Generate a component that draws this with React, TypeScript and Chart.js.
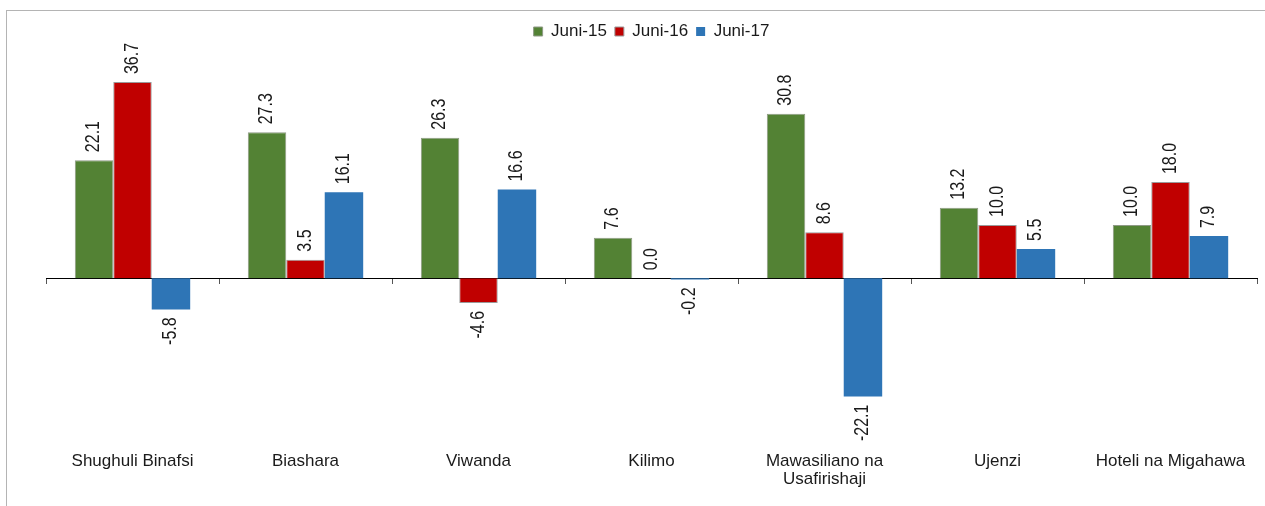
import React, { useEffect, useRef } from 'react';
import { Chart, registerables } from 'chart.js';

Chart.register(...registerables);

const categories: (string | string[])[] = [
  'Shughuli Binafsi',
  'Biashara',
  'Viwanda',
  'Kilimo',
  ['Mawasiliano na', 'Usafirishaji'],
  'Ujenzi',
  'Hoteli na Migahawa',
];
const seriesNames = ['Juni-15', 'Juni-16', 'Juni-17'];
const juni15 = [22.1, 27.3, 26.3, 7.6, 30.8, 13.2, 10.0];
const juni16 = [36.7, 3.5, -4.6, 0.0, 8.6, 10.0, 18.0];
const juni17 = [-5.8, 16.1, 16.6, -0.2, -22.1, 5.5, 7.9];
const seriesColors = ['#538234', '#C00000', '#2E75B6'];
const seriesBorders = ['#8f9a86', '#9a9a9a', '#2E75B6'];

const FONT = '"Liberation Sans", Arial, sans-serif';

const valueLabels = {
  id: 'valueLabels',
  afterDatasetsDraw(chart: any) {
    const ctx = chart.ctx;
    ctx.save();
    ctx.font = `16px ${FONT}`;
    ctx.fillStyle = '#1a1a1a';
    ctx.textBaseline = 'middle';
    chart.data.datasets.forEach((ds: any, di: number) => {
      const meta = chart.getDatasetMeta(di);
      meta.data.forEach((el: any, i: number) => {
        const v = ds.data[i] as number;
        const { x, y, base } = el.getProps(['x', 'y', 'base'], true);
        ctx.save();
        if (v >= 0) {
          ctx.translate(x, Math.min(y, base) - 8);
          ctx.rotate(-Math.PI / 2);
          ctx.textAlign = 'left';
        } else {
          ctx.translate(x, Math.max(y, base) + 8);
          ctx.rotate(-Math.PI / 2);
          ctx.textAlign = 'right';
        }
        ctx.scale(1, 1.22);
        ctx.fillText(v.toFixed(1), 0, 0);
        ctx.restore();
      });
    });
    ctx.restore();
  },
};

export default function App() {
  const canvasRef = useRef<HTMLCanvasElement | null>(null);

  useEffect(() => {
    if (!canvasRef.current) return;
    Chart.defaults.font.family = FONT;
    const series = [juni15, juni16, juni17];
    const chart = new Chart(canvasRef.current, {
      type: 'bar',
      data: {
        labels: categories as any,
        datasets: series.map((d, i) => ({
          label: seriesNames[i],
          data: d,
          backgroundColor: seriesColors[i],
          borderColor: seriesBorders[i],
          borderWidth: i === 2 ? 0 : 1,
          barPercentage: 1,
          categoryPercentage: 0.667,
          xAxisID: 'x',
          yAxisID: 'y',
        })),
      },
      options: {
        animation: false,
        responsive: true,
        maintainAspectRatio: false,
        layout: { padding: { left: 38, right: 8, top: 3, bottom: 3.5 } },
        plugins: {
          legend: {
            position: 'top',
            labels: {
              boxWidth: 9,
              boxHeight: 9,
              padding: 8,
              color: '#1a1a1a',
              font: { size: 17, family: FONT },
            },
          },
          tooltip: { enabled: false },
          title: { display: false },
        },
        scales: {
          y: {
            display: false,
            min: -30,
            max: 42.7,
          },
          x: {
            type: 'category',
            position: { y: 0 } as any,
            offset: true,
            grid: {
              offset: true,
              drawOnChartArea: false,
              drawTicks: true,
              tickLength: 5,
              color: '#555555',
            },
            border: { display: true, color: '#000000', width: 1 },
            ticks: { display: false },
          },
          xl: {
            type: 'category',
            position: 'bottom',
            labels: categories as any,
            offset: true,
            grid: { display: false, drawTicks: false },
            border: { display: false },
            ticks: {
              autoSkip: false,
              maxRotation: 0,
              minRotation: 0,
              padding: 14,
              color: '#1a1a1a',
              font: { size: 17, family: FONT, lineHeight: 1.05 },
            },
          },
        },
      },
      plugins: [valueLabels],
    });
    return () => chart.destroy();
  }, []);

  return (
    <div
      style={{
        position: 'fixed',
        left: 0,
        top: 0,
        width: 1265,
        height: 506,
        background: '#ffffff',
        overflow: 'hidden',
      }}
    >
      <div
        style={{
          position: 'absolute',
          left: 6,
          top: 10,
          right: 0,
          bottom: 0,
          borderTop: '1px solid #b4b4b4',
          borderLeft: '1px solid #b4b4b4',
        }}
      />
      <div style={{ position: 'absolute', left: 8, top: 12, width: 1257, height: 494 }}>
        <canvas ref={canvasRef} />
      </div>
    </div>
  );
}
